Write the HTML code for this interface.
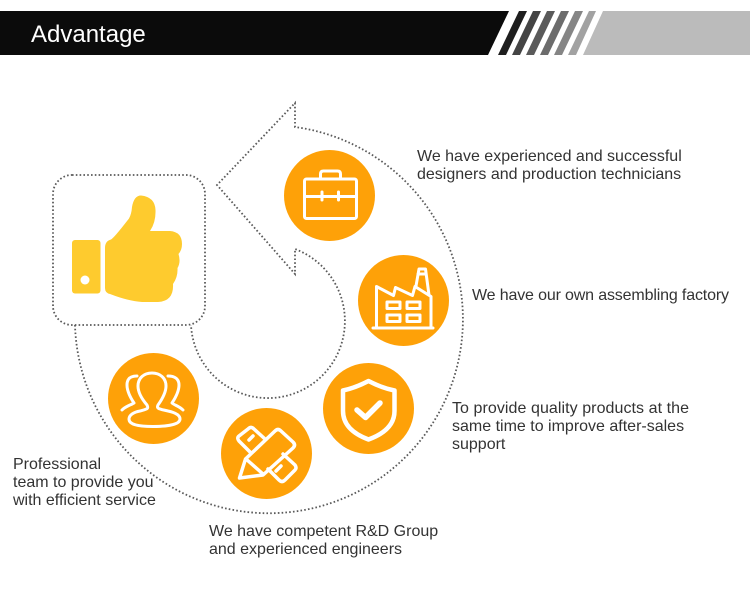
<!DOCTYPE html>
<html>
<head>
<meta charset="utf-8">
<style>
html,body{margin:0;padding:0;background:#fff}
body{width:750px;height:614px;overflow:hidden;position:relative}
svg{position:absolute;left:0;top:0}
text{font-family:"Liberation Sans",sans-serif;font-size:16px;fill:#333}
.d{fill:none;stroke:#5a5a5a;stroke-width:1.8;stroke-dasharray:1.6 2.2}
.w{fill:none;stroke:#fff;stroke-width:3;stroke-linejoin:round;stroke-linecap:round}
</style>
</head>
<body>
<svg width="750" height="614" viewBox="0 0 750 614">
<!-- header -->
<rect x="0" y="11" width="750" height="44" fill="#fff"/>
<polygon points="0,11 509,11 488,55 0,55" fill="#0b0b0b"/>
<polygon points="519,11 527,11 506,55 498,55" fill="#1e1e1e"/>
<polygon points="533,11 541,11 520,55 512,55" fill="#444"/>
<polygon points="547,11 555,11 534,55 526,55" fill="#5a5a5a"/>
<polygon points="561,11 569,11 548,55 540,55" fill="#6c6c6c"/>
<polygon points="575,11 583,11 562,55 554,55" fill="#858585"/>
<polygon points="589,11 596,11 576,55 568,55" fill="#a2a2a2"/>
<polygon points="603,11 750,11 750,55 583,55" fill="#bbb"/>
<text x="31" y="42" style="font-size:24px;fill:#fff">Advantage</text>

<!-- arrow -->
<path class="d" d="M75 325 A194 194 0 1 0 295 127 L295 103 L217 185 L295 274 L295 249 A77 77 0 1 1 191 325"/>
<rect class="d" x="53" y="175" width="152" height="150" rx="19"/>

<!-- thumb -->
<rect x="72" y="240" width="28.5" height="53.5" rx="3" fill="#fecb2e"/>
<circle cx="85" cy="280" r="4.5" fill="#fff"/>
<path fill="#fecb2e" d="M105 248 Q105 241 111 239.500 Q114 238 129 218.500 Q131.500 214 132 207 Q134 195.500 141 195.500 Q155 197 155.500 210 Q156 222 150 231 L170 231 Q182 232 182 244 Q182 250 178.500 254 Q181 262 177.500 268 Q178 277 173 284 Q174 301 158 302 L142 302 Q128 301 110 294 Q105 293 105 288 Z"/>

<!-- circles -->
<circle cx="329.500" cy="195.500" r="45.500" fill="#fea108"/>
<circle cx="403.500" cy="300.500" r="45.500" fill="#fea108"/>
<circle cx="368.500" cy="408.500" r="45.500" fill="#fea108"/>
<circle cx="266.500" cy="453.500" r="45.500" fill="#fea108"/>
<circle cx="153.500" cy="398.500" r="45.500" fill="#fea108"/>

<!-- briefcase -->
<g class="w">
<rect x="304.500" y="179" width="52" height="39.500" rx="2"/>
<path d="M320.500 178 V174 Q320.500 171 323.500 171 H337.500 Q340.500 171 340.500 174 V178"/>
<path d="M305 196.500 H356 M322 192 V200 M338.500 192 V200"/>
</g>

<!-- factory -->
<g class="w">
<path d="M373 328 H433"/>
<path d="M376.500 328 V286.500 L393.500 295.500 L395.500 287.500 L412.500 295.500 L415 286.500 L431 296.500 V328"/>
<path d="M416 286 L419 269 H425.500 L429 295 M418 274 H426"/>
<rect x="387" y="302" width="13" height="6.500"/>
<rect x="407" y="302" width="13" height="6.500"/>
<rect x="387" y="315" width="13" height="6.500"/>
<rect x="407" y="315" width="13" height="6.500"/>
</g>

<!-- shield -->
<path d="M368.500 381 Q382 388 394.500 390.500 L394.500 411 Q394.500 430 368.500 439.500 Q343 430 343 411 L343 390.500 Q355 388 368.500 381 Z" fill="none" stroke="#fff" stroke-width="4.500" stroke-linejoin="round"/>
<path d="M357 410 L365.500 417.500 L380 403" fill="none" stroke="#fff" stroke-width="5.500" stroke-linecap="round" stroke-linejoin="round"/>

<!-- ruler & pencil -->
<g class="w" style="stroke-width:3.5">
<path d="M239.500 478 L245.500 459 L275 431 Q278 428 281 431 L293 442 Q296 445 293 448 L263 475 Z"/>
<path d="M246 459 L263 474"/>
<path d="M250 452 L239 441 Q236.500 438 239 436 L248 429 Q251 426 254 429 L265 439"/>
<path d="M249 440 L253 436"/>
<path d="M283 454 L295 465 Q297 468 295 470 L285 480 Q282 483 279 480 L268 469"/>
<path d="M276 471 L281 466"/>
</g>

<!-- people -->
<g class="w">
<path d="M147 405 C141 398 138 392 138 386 C138 378 144 373 152 373 C160 373 166 378 166 386 C166 392 163 398 158 405 C156 409 160 409 168 411 C177 413 180 416 180 419 C180 424 170 426.500 153 426.500 C136 426.500 129 424 129 419 C129 415 134 412 140 411 C147 409 149 409 147 405 Z"/>
<path d="M122 410 C126 406 131 405 134 403 C130 397 127 391 127 385 C127 379 130 376 137 376"/>
<path d="M183 410 C179 406 174 405 172 403 C176 397 179 391 179 385 C179 379 175 376 168 376"/>
</g>

<!-- labels -->
<text x="417" y="161">We have experienced and successful</text>
<text x="417" y="179">designers and production technicians</text>
<text x="472" y="300" textLength="257" lengthAdjust="spacing">We have our own assembling factory</text>
<text x="452" y="413" textLength="237" lengthAdjust="spacing">To provide quality products at the</text>
<text x="452" y="431">same time to improve after-sales</text>
<text x="452" y="449">support</text>
<text x="209" y="536">We have competent R&amp;D Group</text>
<text x="209" y="554">and experienced engineers</text>
<text x="13" y="469">Professional</text>
<text x="13" y="487">team to provide you</text>
<text x="13" y="505">with efficient service</text>
</svg>
</body>
</html>
